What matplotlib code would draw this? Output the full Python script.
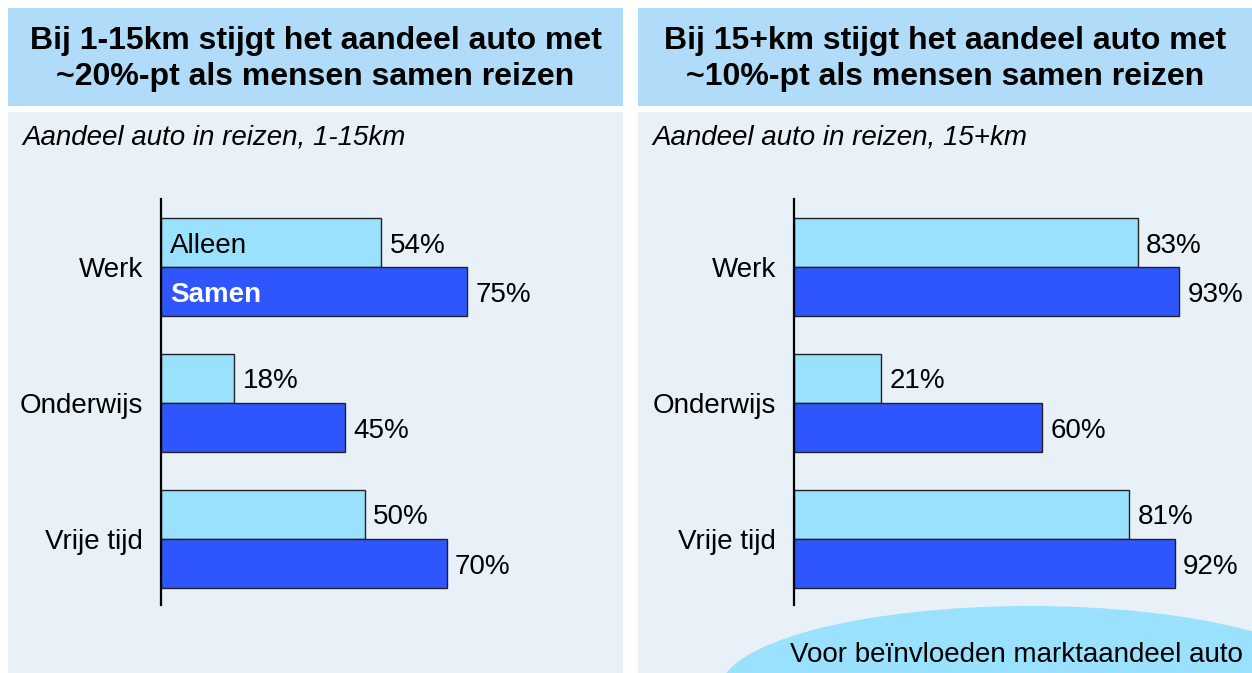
import matplotlib
matplotlib.use("Agg")
import matplotlib.pyplot as plt
from matplotlib.patches import Rectangle, Ellipse

plt.rcParams['font.family'] = ['Liberation Sans', 'DejaVu Sans']

# ---- data ----
categories = ["Werk", "Onderwijs", "Vrije tijd"]
short_alleen = [54, 18, 50]   # 1-15km, alleen
short_samen = [75, 45, 70]    # 1-15km, samen
long_alleen = [83, 21, 81]    # 15+km, alleen
long_samen = [93, 60, 92]     # 15+km, samen
series_names = ["Alleen", "Samen"]
titles = ["Bij 1-15km stijgt het aandeel auto met\n~20%-pt als mensen samen reizen",
          "Bij 15+km stijgt het aandeel auto met\n~10%-pt als mensen samen reizen"]
subtitles = ["Aandeel auto in reizen, 1-15km", "Aandeel auto in reizen, 15+km"]
callout = "Voor beïnvloeden marktaandeel auto"

# ---- style ----
W, H = 1252, 673
HEADER = "#B0DCFA"
BODY = "#E8F1F8"
LIGHT = "#99E1FC"
DARK = "#2F55FF"

fig = plt.figure(figsize=(W / 100, H / 100), dpi=100)
fig.patch.set_facecolor("white")

bg = fig.add_axes([0, 0, 1, 1], zorder=0)
bg.set_xlim(0, W)
bg.set_ylim(H, 0)
bg.axis("off")

panels_x = [8, 638]
panel_w = 615
for i, px in enumerate(panels_x):
    bg.add_patch(Rectangle((px, 8), panel_w, 98, facecolor=HEADER, edgecolor="none"))
    bg.add_patch(Rectangle((px, 112), panel_w, H - 112 + 5, facecolor=BODY, edgecolor="none"))
    bg.text(px + panel_w / 2, 59, titles[i], ha="center", va="center",
            fontsize=23, fontweight="bold", linespacing=1.22, color="black")
    bg.text(px + 14, 137, subtitles[i], ha="left", va="center",
            fontsize=20, fontstyle="italic", color="black")

# callout ellipse at bottom right
bg.add_patch(Ellipse((1030, 690), 620, 168, facecolor=LIGHT, edgecolor="none"))
bg.text(790, 655, callout, ha="left", va="center", fontsize=20, color="black")

# ---- bar axes ----
ks = [4.08, 4.14]  # px per percent
ax_top, ax_bot = 199, 605
spacing = 136.0
bar_h = 48.5 / spacing
off = 24.5 / spacing
data = [(short_alleen, short_samen), (long_alleen, long_samen)]
axis_x = [161, 794]

for i, (alleen, samen) in enumerate(data):
    k = ks[i]
    ax = fig.add_axes([axis_x[i] / W, 1 - ax_bot / H, 100 * k / W, (ax_bot - ax_top) / H], zorder=2)
    ax.set_facecolor("none")
    ax.set_xlim(0, 100)
    top = -(267 - ax_top) / spacing
    bottom = top + (ax_bot - ax_top) / spacing
    ax.set_ylim(bottom, top)
    pos = list(range(len(categories)))
    ya = [p - off for p in pos]
    ys = [p + off for p in pos]
    ax.barh(ya, alleen, height=bar_h, color=LIGHT, edgecolor="#222222", linewidth=1.0)
    ax.barh(ys, samen, height=bar_h, color=DARK, edgecolor="#222222", linewidth=1.0)
    for y, v in zip(ya, alleen):
        ax.annotate(f"{v}%", (v, y), xytext=(6, 0), textcoords="offset points",
                    ha="left", va="center_baseline", fontsize=20)
    for y, v in zip(ys, samen):
        ax.annotate(f"{v}%", (v, y), xytext=(6, 0), textcoords="offset points",
                    ha="left", va="center_baseline", fontsize=20)
    if i == 0:
        ax.annotate(series_names[0], (0, ya[0]), xytext=(6.5, 0), textcoords="offset points",
                    ha="left", va="center_baseline", fontsize=20, color="black")
        ax.annotate(series_names[1], (0, ys[0]), xytext=(6.5, 0), textcoords="offset points",
                    ha="left", va="center_baseline", fontsize=20, color="white", fontweight="bold")
    ax.set_yticks(pos)
    ax.set_yticklabels(categories, fontsize=20)
    ax.tick_params(axis="y", length=0, pad=13)
    ax.set_xticks([])
    for s in ["top", "right", "bottom"]:
        ax.spines[s].set_visible(False)
    ax.spines["left"].set_linewidth(1.6)
    ax.spines["left"].set_color("black")

fig.savefig("out.png", dpi=100)
